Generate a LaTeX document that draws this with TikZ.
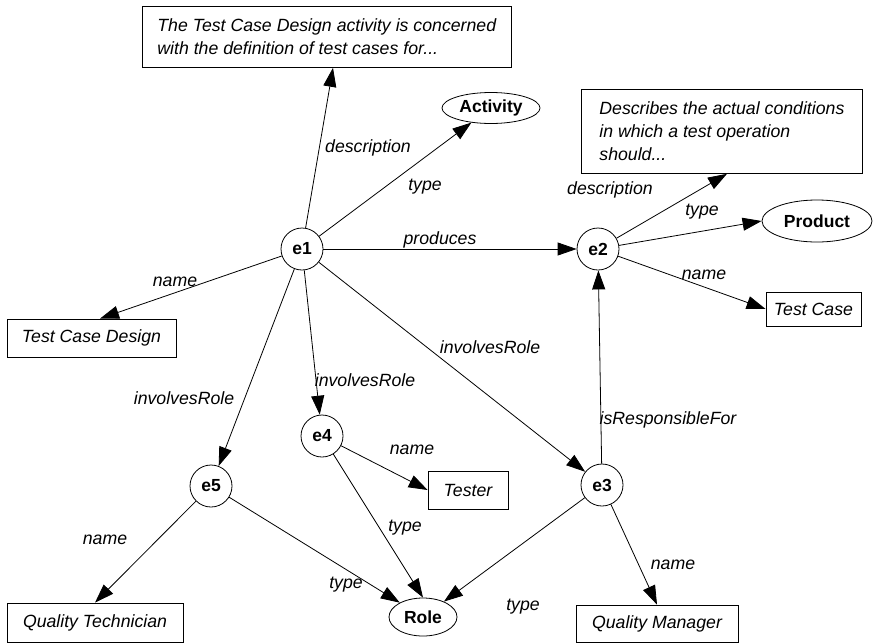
\documentclass[tikz,border=0pt]{standalone}
\usepackage{fontspec}
\setmainfont{Liberation Sans}
\usetikzlibrary{arrows.meta,shapes.geometric}

\begin{document}
\begin{tikzpicture}[x=1pt,y=-1pt,
  font=\fontsize{17.7}{22}\selectfont,
  ent/.style={circle,draw,line width=0.8pt,minimum size=42pt,inner sep=0pt,font=\fontsize{17.5}{22}\selectfont\bfseries},
  cls/.style={ellipse,draw,line width=0.8pt,inner sep=0pt,font=\fontsize{17.5}{22}\selectfont\bfseries},
  lit/.style={rectangle,draw,line width=0.8pt,inner sep=0pt,font=\fontsize{17.7}{22}\selectfont\itshape},
  descbox/.style={rectangle,draw,line width=0.8pt,align=left,inner xsep=15pt,inner ysep=0pt,anchor=north west,font=\fontsize{17.7}{23}\selectfont\itshape},
  lbl/.style={inner sep=0pt,font=\fontsize{17.7}{22}\selectfont\itshape},
  rel/.style={draw,line width=0.8pt,-{Triangle[length=19pt,width=13pt]}}
]
\useasboundingbox (0,0) rectangle (875,643);

% resource nodes
\node[ent] (e1) at (302,249) {e1};
\node[ent] (e2) at (598,249) {e2};
\node[ent] (e3) at (602,485) {e3};
\node[ent] (e4) at (322,436) {e4};
\node[ent] (e5) at (211,486) {e5};

% classes
\node[cls,minimum width=98pt,minimum height=31pt] (act) at (491,108) {Activity};
\node[cls,minimum width=110pt,minimum height=42pt] (prod) at (817,221) {Product};
\node[cls,minimum width=68pt,minimum height=38pt] (role) at (423,617) {Role};

% literal values
\node[descbox,minimum height=61pt] (d1) at (142,6)
  {The Test Case Design activity is concerned\\with the definition of test cases for...};
\node[descbox,minimum width=281pt,minimum height=84pt] (d2) at (581,89)
  {Describes the actual conditions\\in which a test operation\\should...};
\node[lit,minimum width=169pt,minimum height=38pt] (tcd) at (91.5,338) {Test Case Design};
\node[lit,minimum width=95pt,minimum height=34pt] (tc) at (813.5,309) {Test Case};
\node[lit,minimum width=80pt,minimum height=38pt] (tester) at (468,490) {Tester};
\node[lit,minimum width=176pt,minimum height=39pt] (qt) at (95,622.5) {Quality Technician};
\node[lit,minimum width=162pt,minimum height=37pt] (qm) at (657,623.5) {Quality Manager};

% properties
\draw[rel] (e1) -- ([xshift=191pt]d1.south west);
\draw[rel] (e1) -- (act);
\draw[rel] (e1) -- (e2);
\draw[rel] (e1) -- ([xshift=8.5pt]tcd.north);
\draw[rel] (e1) -- (e5);
\draw[rel] (e1) -- (e4);
\draw[rel] (e1) -- (e3);
\draw[rel] (e2) -- ([xshift=146pt]d2.south west);
\draw[rel] (e2) -- (prod.west);
\draw[rel] (e2) -- (tc.west);
\draw[rel] (e3) -- (e2);
\draw[rel] (e4) -- (tester.west);
\draw[rel] (e4) -- (role.north);
\draw[rel] (e5) -- (qt.north);
\draw[rel] (e5) -- (role);
\draw[rel] (e3) -- (role);
\draw[rel] (e3) -- (qm.north);

% property labels
\node[lbl] (l1) at (368,148) {description};
\node[lbl] (l2) at (425,187) {type};
\node[lbl] (l3) at (440,240) {produces};
\node[lbl] (l4) at (175,282) {name};
\node[lbl] (l5) at (184,398) {involvesRole};
\node[lbl] (l6) at (365,380) {involvesRole};
\node[lbl] (l7) at (490,347) {involvesRole};
\node[lbl] (l8) at (610,190) {description};
\node[lbl] (l9) at (702,212) {type};
\node[lbl] (l10) at (704,275) {name};
\node[lbl] (l11) at (668,420) {isResponsibleFor};
\node[lbl] (l12) at (412,450) {name};
\node[lbl] (l13) at (405,528) {type};
\node[lbl] (l14) at (105,540) {name};
\node[lbl] (l15) at (346,585) {type};
\node[lbl] (l16) at (523,607) {type};
\node[lbl] (l17) at (673,565) {name};
\end{tikzpicture}
\end{document}
